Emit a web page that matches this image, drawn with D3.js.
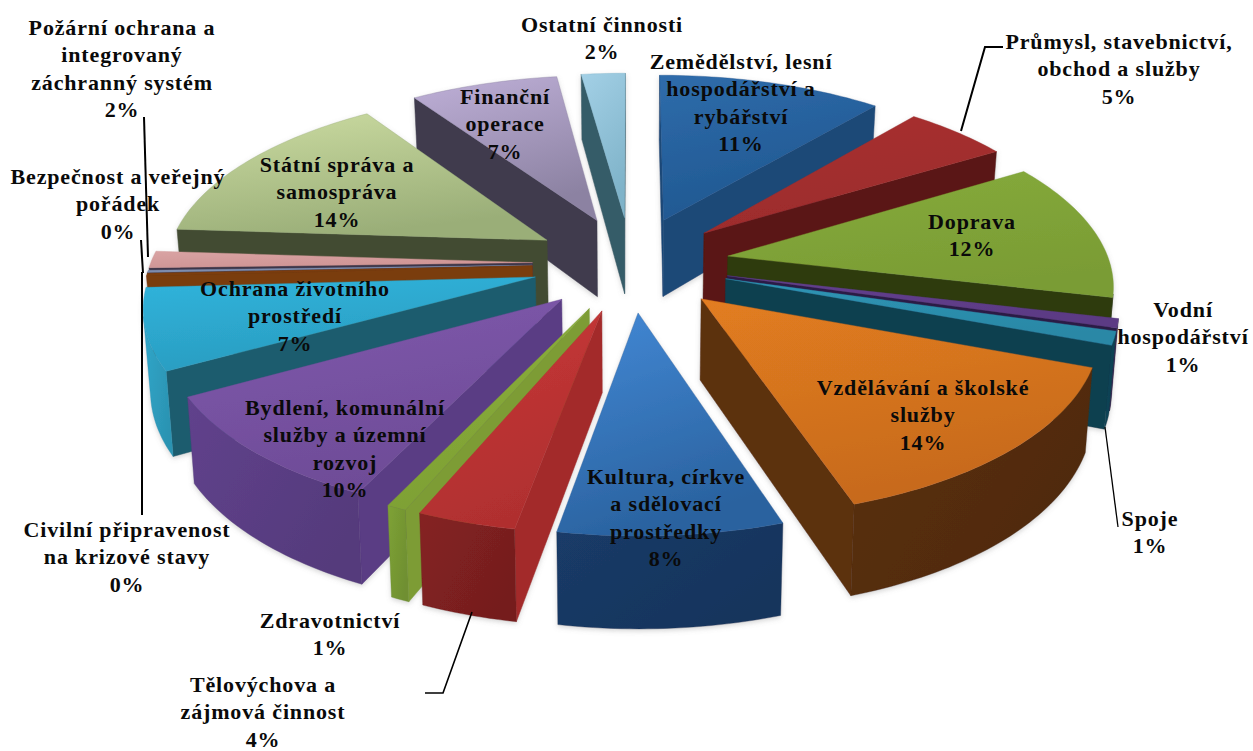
<!DOCTYPE html>
<html lang="cs">
<head>
<meta charset="utf-8">
<title>Výdaje podle odvětví</title>
<script src="https://cdn.jsdelivr.net/npm/d3@7"></script>
<style>
html,body{margin:0;padding:0;background:#fff;overflow:hidden}
svg{display:block}
text{font-family:"Liberation Serif","Times New Roman",serif;font-weight:700;font-size:22px;fill:#0a0a0a;text-anchor:middle;dominant-baseline:central;letter-spacing:.85px}
</style>
</head>
<body>
<svg id="chart" width="1253" height="751"></svg>
<script>
const categories = ["Zemědělství, lesní hospodářství a rybářství","Průmysl, stavebnictví, obchod a služby","Doprava","Vodní hospodářství","Spoje","Vzdělávání a školské služby","Kultura, církve a sdělovací prostředky","Tělovýchova a zájmová činnost","Zdravotnictví","Bydlení, komunální služby a územní rozvoj","Ochrana životního prostředí","Civilní připravenost na krizové stavy","Bezpečnost a veřejný pořádek","Požární ochrana a integrovaný záchranný systém","Státní správa a samospráva","Finanční operace","Ostatní činnosti"];
const values = [11.1,5.2,12.4,0.8,1.2,14.25,7.9,3.5,0.7,9.85,7.19,0.25,0.2,1.5,14.49,7.3,2.17];
const percentLabels = ["11%","5%","12%","1%","1%","14%","8%","4%","1%","10%","7%","0%","0%","2%","14%","7%","2%"];
const labelLines = [
 ["Zemědělství, lesní","hospodářství a","rybářství"],["Průmysl, stavebnictví,","obchod a služby"],["Doprava"],["Vodní","hospodářství"],["Spoje"],
 ["Vzdělávání a školské","služby"],["Kultura, církve","a sdělovací","prostředky"],["Tělovýchova a","zájmová činnost"],["Zdravotnictví"],
 ["Bydlení, komunální","služby a územní","rozvoj"],["Ochrana životního","prostředí"],["Civilní připravenost","na krizové stavy"],["Bezpečnost a veřejný","pořádek"],
 ["Požární ochrana a","integrovaný","záchranný systém"],["Státní správa a","samospráva"],["Finanční","operace"],["Ostatní činnosti"]];

/* styling and layout, kept apart from the values */
const topLight = ["#2f6cab","#a93030","#86ab3c","#64408f","#2f95b5","#e27d20","#4389d6","#c93838","#8db23c","#8058ad","#30b4dc","#7c3c0c","#8a9ac0","#d9a3a3","#ccdca2","#bfb0d8","#a3d0e6"];
const topDark  = ["#1f5790","#9c2c2c","#7a9c34","#5b3a84","#2a88a6","#c76a1e","#2a629f","#b02f2f","#7d9f34","#6e4c97","#2a9cc0","#7c3c0c","#7a88a8","#cf9595","#9aae78","#8c82a2","#7fb3c9"];
const wallColors = ["#1c4877","#5a1512","#2d3a10","#2a1a45","#0f3f4f","#5c300c","#2a5c96","#a32c2c","#7d9c36","#5a3d84","#1c5c6e","#7a3c0c","#3c3548","#3c3548","#434c33","#3f3b4e","#365b67"];
const rimColors  = ["#17406c","#4f1210","#2d3a10","#2a1a45","#0f3f4f","#4f2a0b","#17345c","#751e1e","#6f8f30","#553a7c","#2b93b2","#7a3c0c","#3c3548","#3c3548","#434c33","#3f3b4e","#365b67"];
const labelAnchors = [[741,61],[1119,41],[972,221],[1183,309],[1150,518],[923,387],[666,476],[263,684],[330,620],[345,407],[295,288],[127,529],[118,176],[122,27],[337,164],[505,96],[602,24]];
const leaderLines = [
 [[144,117],[148,257]],[[141,240],[143,273]],[[142,272],[142,515]],
 [[1003,47],[985,47],[961,131]],[[1118,527],[1105,427]],[[472,612],[443,693],[425,693]]];
const leaderWidths = [2,2,2,2,1.3,1.6];

const svg = d3.select("#chart");

// perspective plane: u to the right, w towards the viewer
const cx = 631, cy = 263.5, ax = 382, by = 176.5, persp = 0.14, explodeU = 0.258, explodeW = 0.27;
const xScale = d3.scaleLinear().domain([-1,1]).range([cx-ax,cx+ax]);
const yScale = d3.scaleLinear().domain([-1,1]).range([cy-by,cy+by]);
const depth = w => 79 + 11*w;
const project = (u,w,z) => {
  const s = 1/(1-persp*w), shrink = 1-0.015*z;
  return [xScale(u*s*shrink), yScale(w*s)+z*depth(w)];
};

const pie = d3.pie().sort(null).value(d=>d.value);
const arcs = pie(values.map((value,i)=>({value,i})));
const line = d3.line();
const defs = svg.append("defs");
const blur = defs.append("filter").attr("id","soft").attr("x","-5%").attr("y","-5%").attr("width","110%").attr("height","115%");
blur.append("feDropShadow").attr("dx",0).attr("dy",2).attr("stdDeviation",2.5).attr("flood-color","#777").attr("flood-opacity",.3);

const grad = (id,c0,c1,x2,y2)=>{
  const g = defs.append("linearGradient").attr("id",id).attr("x1",0).attr("y1",0).attr("x2",x2).attr("y2",y2);
  g.append("stop").attr("offset",0).attr("stop-color",c0);
  g.append("stop").attr("offset",1).attr("stop-color",c1);
};

const slices = arcs.map(a=>{
  const mid=(a.startAngle+a.endAngle)/2, ou=explodeU*Math.sin(mid), ow=-explodeW*Math.cos(mid);
  return {...a,mid,ou,ow,i:a.data.i};
}).sort((p,q)=>p.ow-q.ow);

const g = svg.append("g").attr("filter","url(#soft)");
slices.forEach(sl=>{
  const i=sl.i;
  grad("top"+i,topLight[i],topDark[i],.35,1);
  const n=Math.max(2,Math.ceil((sl.endAngle-sl.startAngle)/0.02));
  const thetaAt=d3.scaleLinear().domain([0,n]).range([sl.startAngle,sl.endAngle]);
  const plane=d3.range(n+1).map(k=>{const t=thetaAt(k);return [sl.ou+Math.sin(t),sl.ow-Math.cos(t)];});
  const apex=[sl.ou,sl.ow];
  const top=p=>project(p[0],p[1],0), bot=p=>project(p[0],p[1],1);
  const topPoly=[top(apex),...plane.map(top)];
  const faceSign=Math.sign(d3.polygonArea(topPoly));
  const slice=g.append("g").attr("class","slice");
  const visible=(A,B)=>Math.sign(d3.polygonArea([top(A),top(B),bot(B),bot(A)]))!==faceSign;
  // radial walls
  [[apex,plane[0]],[plane[n],apex]].forEach(([A,B])=>{
    if(visible(A,B)) slice.append("path").attr("d",line([top(A),top(B),bot(B),bot(A)])+"Z").attr("fill",wallColors[i]).attr("stroke",wallColors[i]).attr("stroke-width",.5);
  });
  // outer rim, visible runs only
  grad("rim"+i,d3.color(rimColors[i]).brighter(.35).formatHex(),rimColors[i],1,.6);
  let run=[];
  const flush=()=>{ if(run.length>1){ slice.append("path").attr("d",line([...run.map(top),...run.slice().reverse().map(bot)])+"Z").attr("fill","url(#rim"+i+")").attr("stroke",rimColors[i]).attr("stroke-width",.4);} run=[]; };
  for(let k=0;k<n;k++){
    if(visible(plane[k],plane[k+1])){ if(!run.length) run.push(plane[k]); run.push(plane[k+1]); } else flush();
  }
  flush();
  slice.append("path").attr("d",line(topPoly)+"Z").attr("fill","url(#top"+i+")").attr("stroke",topDark[i]).attr("stroke-width",.4);
});

svg.append("g").selectAll("path").data(leaderLines).join("path")
  .attr("d",d=>line(d)).attr("fill","none").attr("stroke","#000").attr("stroke-width",(d,i)=>leaderWidths[i]);

const lh = 27.4;
const labels = svg.append("g");
categories.forEach((c,i)=>{
  const [x,y]=labelAnchors[i];
  const t=labels.append("text").attr("data-category",c);
  [...labelLines[i],percentLabels[i]].forEach((s,j)=>{
    t.append("tspan").attr("x",x).attr("y",y+j*lh).text(s);
  });
});
</script>
</body>
</html>
